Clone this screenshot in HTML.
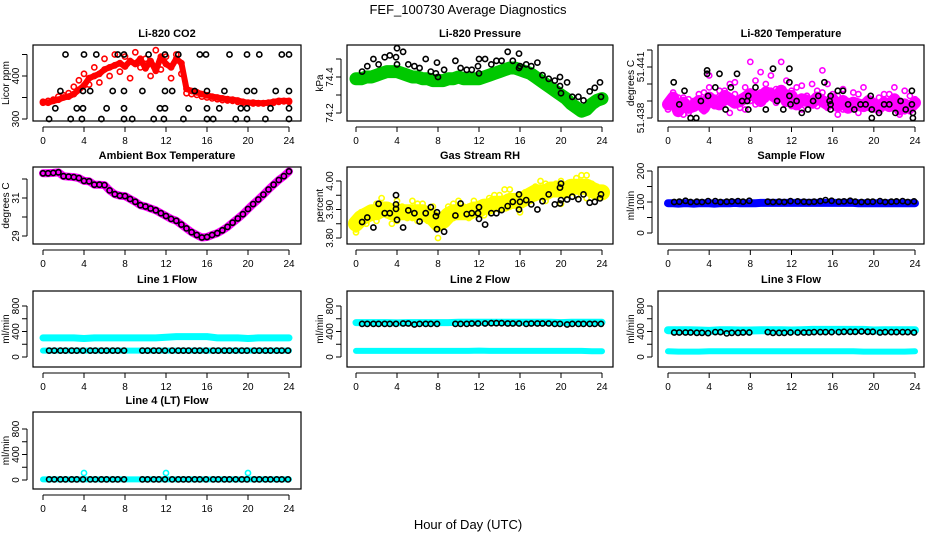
<!DOCTYPE html>
<html><head><meta charset="utf-8"><title>FEF_100730 Average Diagnostics</title>
<style>
html,body{margin:0;padding:0;background:#fff;}
svg{display:block;font-family:"Liberation Sans",Arial,sans-serif;}
</style></head>
<body>
<svg id="chart" width="936" height="540" viewBox="0 0 936 540" xmlns="http://www.w3.org/2000/svg">
<text x="468" y="14" text-anchor="middle" font-size="13">FEF_100730  Average Diagnostics</text>
<text x="468" y="529" text-anchor="middle" font-size="13">Hour of Day (UTC)</text>
</svg>
<script>
const halfHours=[0,0.5,1,1.5,2,2.5,3,3.5,4,4.5,5,5.5,6,6.5,7,7.5,8,8.5,9,9.5,10,10.5,11,11.5,12,12.5,13,13.5,14,14.5,15,15.5,16,16.5,17,17.5,18,18.5,19,19.5,20,20.5,21,21.5,22,22.5,23,23.5,24];
const hourly=[0,1,2,3,4,5,6,7,8,9,10,11,12,13,14,15,16,17,18,19,20,21,22,23,24];
const xTicks=[0,4,8,12,16,20,24];

const co2Main=[340,338,342,345,350,352,358,368,378,395,400,405,415,420,425,430,422,435,428,440,418,435,412,445,428,420,440,430,370,365,362,358,355,352,350,348,346,345,343,340,338,338,337,337,338,340,342,342,342];
const co2Alt=[338,342,345,352,355,360,375,390,405,380,420,385,440,400,450,410,445,395,455,420,440,400,460,415,445,395,450,405,360,358,356,352,350,348,346,344,343,342,340,338,337,336,336,336,337,338,340,341,340];
const co2BlackH=[0.6,2.7,3.8,5.7,7.9,8.7,10.8,11.8,13.7,16,16.6,18.8,19.9,21.7,24,1.2,3.3,3.9,6.2,7.9,11.4,11.9,14.2,16,17.2,19.3,19.9,22.2,24,1.7,3.9,4.6,6.8,7.9,9.7,11.9,12.6,14.8,16,17.7,19.9,20.6,22.7,24,2.2,4,5.2,7.3,7.9,10.3,11.9,13.2,15.3,15.9,18.2,19.9,21.1,23.3,24];
const co2BlackV=[300,300,300,300,300,300,300,300,300,300,300,300,300,300,300,325,325,325,325,325,325,325,325,325,325,325,325,325,325,365,365,365,365,365,365,365,365,365,365,365,365,365,365,365,450,450,450,450,450,450,450,450,450,450,450,450,450,450,450];

const presMain=[74.39,74.39,74.40,74.40,74.41,74.42,74.43,74.43,74.43,74.42,74.41,74.40,74.40,74.39,74.39,74.38,74.38,74.38,74.39,74.39,74.40,74.39,74.39,74.39,74.39,74.40,74.41,74.42,74.43,74.44,74.45,74.45,74.44,74.43,74.42,74.40,74.38,74.36,74.34,74.32,74.30,74.28,74.25,74.23,74.21,74.22,74.25,74.27,74.28];
const presBlackH=[0.6,1.1,1.7,2.2,2.8,3.3,3.9,4,4,4.6,5.1,5.7,6.2,6.8,7.3,7.8,7.9,8,8.6,9.7,10.2,10.8,11.3,11.9,12,12,12.6,13.2,13.7,14.2,14.8,15.3,15.9,15.9,16,16.6,17.1,17.7,18.2,18.8,19.4,19.9,19.9,20,20.6,21.1,21.7,22.2,22.8,23.3,23.8,23.9];
const presBlackV=[74.43,74.46,74.50,74.47,74.51,74.52,74.51,74.56,74.47,74.54,74.47,74.46,74.45,74.50,74.43,74.42,74.48,74.40,74.44,74.49,74.45,74.44,74.44,74.46,74.50,74.42,74.50,74.47,74.49,74.49,74.54,74.49,74.53,74.45,74.46,74.47,74.46,74.48,74.41,74.39,74.38,74.35,74.40,74.31,74.37,74.29,74.29,74.27,74.32,74.34,74.37,74.29];

const tempA=[51.4390,51.4395,51.4385,51.4392,51.4383,51.4390,51.4388,51.4395,51.4398,51.4392,51.4396,51.4389,51.4400,51.4394,51.4386,51.4398,51.4390,51.4402,51.4395,51.4400,51.4405,51.4397,51.4392,51.4402,51.4396,51.4390,51.4399,51.4393,51.4391,51.4387,51.4395,51.4400,51.4389,51.4393,51.4385,51.4390,51.4386,51.4394,51.4388,51.4391,51.4385,51.4392,51.4389,51.4394,51.4386,51.4390,51.4384,51.4393,51.4388];
const tempB=[51.4385,51.4388,51.4392,51.4382,51.4391,51.4386,51.4394,51.4384,51.4405,51.4387,51.4393,51.4396,51.4383,51.4401,51.4392,51.4385,51.4413,51.4388,51.4407,51.4391,51.4396,51.4389,51.4413,51.4395,51.4387,51.4398,51.4385,51.4393,51.4400,51.4396,51.4408,51.4386,51.4394,51.4382,51.4397,51.4389,51.4395,51.4383,51.4398,51.4386,51.4389,51.4383,51.4394,51.4387,51.4398,51.4382,51.4396,51.4384,51.4391];
const tempMid=[51.4388,51.4392,51.4384,51.4389,51.4386,51.4387,51.4390,51.4386,51.4392,51.4389,51.4388,51.4393,51.4391,51.4389,51.4390,51.4392,51.4394,51.4393,51.4390,51.4395,51.4394,51.4392,51.4396,51.4390,51.4393,51.4388,51.4391,51.4390,51.4389,51.4392,51.4390,51.4388,51.4391,51.4387,51.4390,51.4386,51.4389,51.4388,51.4387,51.4390,51.4388,51.4386,51.4389,51.4387,51.4391,51.4385,51.4388,51.4386,51.4389];
const tempBlackH=[0.55,1.1,1.6,2.2,2.75,3.2,3.8,3.8,3.9,4.6,5.0,5.6,6.1,6.7,7.2,7.7,7.8,7.8,8.5,9.5,10.2,10.6,11.2,11.8,11.8,11.8,11.9,12.5,13,13.6,14.1,14.6,15.2,15.7,15.8,15.8,15.8,16.5,17,17.5,18.1,18.7,19.2,19.7,19.8,19.8,20.5,21,21.5,22.1,22.6,23.1,23.7,23.7,23.8,23.8];
const tempBlackV=[51.4401,51.4388,51.4396,51.4380,51.4380,51.4390,51.4408,51.4406,51.4393,51.4398,51.4406,51.4385,51.4398,51.4406,51.4390,51.4390,51.4393,51.4385,51.4398,51.4385,51.4409,51.4390,51.4385,51.4401,51.4409,51.4393,51.4388,51.4390,51.4383,51.4385,51.4390,51.4393,51.4401,51.4390,51.4393,51.4388,51.4385,51.4396,51.4396,51.4388,51.4385,51.4388,51.4388,51.4393,51.4385,51.4380,51.4383,51.4388,51.4388,51.4383,51.4390,51.4385,51.4396,51.4388,51.4383,51.4380];

const ambTemp=[32.30,32.30,32.32,32.35,32.15,32.12,32.10,32.05,31.90,31.88,31.70,31.70,31.68,31.40,31.20,31.12,31.10,30.95,30.80,30.62,30.55,30.45,30.35,30.20,30.05,29.90,29.80,29.60,29.40,29.20,29.05,28.92,28.95,29.05,29.15,29.30,29.48,29.70,29.92,30.15,30.42,30.68,30.92,31.18,31.45,31.70,31.95,32.15,32.40];

const rhA=[3.83,3.86,3.88,3.90,3.92,3.94,3.88,3.91,3.93,3.88,3.90,3.87,3.92,3.89,3.86,3.91,3.84,3.87,3.89,3.92,3.90,3.88,3.91,3.93,3.89,3.91,3.94,3.92,3.95,3.93,3.97,3.92,3.95,3.93,3.96,3.98,3.95,3.99,3.97,3.96,4.00,3.98,3.96,4.01,3.99,4.02,3.97,3.98,3.95];
const rhB=[3.82,3.89,3.85,3.87,3.86,3.89,3.91,3.85,3.86,3.91,3.87,3.93,3.86,3.92,3.89,3.86,3.80,3.85,3.91,3.87,3.93,3.91,3.87,3.89,3.92,3.88,3.90,3.95,3.90,3.97,3.91,3.94,3.89,3.96,3.93,3.94,4.00,3.93,3.96,3.99,3.92,3.95,3.99,3.95,4.02,3.94,3.99,3.95,3.97];
const rhMid=[3.85,3.87,3.88,3.89,3.89,3.90,3.90,3.89,3.89,3.89,3.89,3.89,3.89,3.89,3.88,3.87,3.85,3.86,3.88,3.89,3.89,3.89,3.89,3.90,3.90,3.91,3.91,3.92,3.92,3.92,3.93,3.93,3.93,3.94,3.95,3.96,3.96,3.96,3.97,3.97,3.97,3.97,3.98,3.98,3.98,3.98,3.97,3.96,3.96];
const rhBlackH=[0.6,1.1,1.7,2.2,2.8,3.3,3.9,3.9,3.9,4,4.6,5.1,5.7,6.2,6.8,7.3,7.8,7.9,7.9,8.6,9.7,10.2,10.8,11.3,11.9,12,12,12.6,13.2,13.7,14.2,14.8,15.3,15.9,15.9,16,16.6,17.1,17.7,18.2,18.8,19.4,19.9,19.9,20,20,20.6,21.1,21.7,22.2,22.8,23.3,23.8,23.9];
const rhBlackV=[3.856,3.872,3.837,3.920,3.887,3.887,3.950,3.918,3.902,3.864,3.837,3.897,3.887,3.858,3.887,3.908,3.877,3.890,3.831,3.822,3.879,3.921,3.884,3.887,3.887,3.908,3.867,3.847,3.887,3.887,3.898,3.912,3.927,3.953,3.900,3.927,3.933,3.918,3.900,3.929,3.953,3.918,3.921,3.977,3.991,3.933,3.935,3.945,3.936,3.953,3.924,3.927,3.939,3.953];

const sampleBlue=[96,96,95,96,96,95,96,96,96,95,96,96,96,97,96,96,96,96,97,97,97,97,97,97,97,97,97,97,97,97,97,97,97,97,97,97,97,96,96,96,96,96,96,96,96,96,96,96,96];
const flowBlackH=[0.6,1.1,1.7,2.2,2.8,3.3,3.9,4.6,5.1,5.7,6.2,6.8,7.3,7.9,9.7,10.2,10.8,11.3,11.9,12.6,13.2,13.7,14.2,14.8,15.3,15.9,16.6,17.1,17.7,18.2,18.8,19.4,19.9,20.6,21.1,21.7,22.2,22.8,23.3,23.9];
const sampleBlack=[100,101,104,100,101,100,103,103,100,101,102,103,101,104,101,100,101,100,103,102,101,100,101,103,106,104,101,102,104,101,100,101,101,103,100,101,102,103,100,102];
const line1Hi=[300,300,300,300,290,300,300,300,300,300,300,300,310,320,320,320,320,300,300,300,290,300,300,300,300];
const line1Lo=[100,100,100,100,100,100,100,100,100,100,100,100,100,100,100,100,100,100,100,100,100,100,100,100,100];
const line1Black=[100,100,100,100,100,100,100,100,100,100,100,100,100,100,100,100,100,100,100,100,100,100,100,100,100,100,100,100,100,100,100,100,100,100,100,100,100,100,100,100];
const line2Hi=[540,540,540,540,535,540,540,540,540,540,545,545,545,545,545,545,545,545,545,545,540,545,545,545,545];
const line2Lo=[95,95,95,95,95,95,95,95,95,95,95,95,100,95,95,95,95,95,95,95,95,95,95,90,90];
const line2Black=[520,520,520,520,520,520,520,525,525,510,520,520,520,520,520,520,520,525,525,525,530,530,530,525,525,525,520,525,525,525,525,520,520,510,520,520,520,520,520,520];
const line3Hi=[420,420,420,415,410,420,420,415,415,420,420,420,415,420,425,425,425,425,425,425,415,420,420,420,420];
const line3Lo=[90,85,85,85,90,90,90,90,90,90,90,90,90,90,90,90,90,90,90,85,85,85,85,85,90];
const line3Black=[385,385,385,385,380,380,375,390,390,370,380,380,385,385,390,380,380,380,385,385,385,385,390,390,390,390,390,395,395,395,400,395,395,385,390,390,390,390,390,385];
const line4Cyan=[10,10,10,10,10,10,10,10,10,10,10,10,10,10,10,10,10,10,10,10,10,10,10,10,10];
const line4OutH=[4,12,20];
const line4OutV=[110,110,110];
const line4Black=[10,10,10,10,10,10,10,10,10,10,10,10,10,10,10,10,10,10,10,10,10,10,10,10,10,10,10,10,10,10,10,10,10,10,10,10,10,10,10,10];

const NS="http://www.w3.org/2000/svg";
const svg=document.getElementById('chart');
function mk(tag,attrs,parent){const e=document.createElementNS(NS,tag);for(const k in attrs)e.setAttribute(k,attrs[k]);(parent||svg).appendChild(e);return e;}

const cols=[{bx0:33,bx1:301,h0:43,h24:289},{bx0:347,bx1:613,h0:356,h24:602},{bx0:658,bx1:924,h0:668,h24:915}];
const rows=[{by0:45,by1:121},{by0:167,by1:244},{by0:291,by1:367},{by0:412,by1:489}];

function panel(p){
  const c=cols[p.col], r=rows[p.row];
  const g=mk('g',{});
  
  
  const xs=h=>c.h0+(h/24)*(c.h24-c.h0);
  const ys=v=>p.ref[1]+(v-p.ref[0])*(p.ref[3]-p.ref[1])/(p.ref[2]-p.ref[0]);
  p.series.forEach(s=>{
    const sg=mk('g',{},g);
    
    
    if(s.band){
      const pts=s.h.map((h,i)=>xs(h).toFixed(1)+','+ys(s.v[i]).toFixed(1)).join(' ');
      const pl=mk('polyline',{points:pts,fill:'none',stroke:s.color,'stroke-width':s.band,'stroke-linejoin':'round','stroke-linecap':'round'},sg);
      
      
    }
    if(s.circles!==false){
      s.h.forEach((h,i)=>{
        const ci=mk('circle',{cx:xs(h).toFixed(1),cy:ys(s.v[i]).toFixed(1),r:s.r||2.6,fill:'none',stroke:s.ccolor||s.color,'stroke-width':1.6},sg);
        
        
      });
    }
  });
  const box=mk('rect',{x:c.bx0,y:r.by0,width:c.bx1-c.bx0,height:r.by1-r.by0,fill:'none',stroke:'#000','stroke-width':1.2},g);
  
  
  const xa=mk('g',{},g);
  
  
  const yb=r.by1+6;
  mk('line',{x1:xs(0),x2:xs(24),y1:yb,y2:yb,stroke:'#000','stroke-width':1},xa);
  xTicks.forEach(t=>{
    mk('line',{x1:xs(t),x2:xs(t),y1:yb,y2:yb+5,stroke:'#000','stroke-width':1},xa);
    const tx=mk('text',{x:xs(t),y:yb+17,'text-anchor':'middle','font-size':10},xa);
    tx.textContent=t;
    
    
  });
  const ya=mk('g',{},g);
  
  
  const xl=c.bx0-6;
  mk('line',{x1:xl,x2:xl,y1:ys(p.yticks[0]),y2:ys(p.yticks[p.yticks.length-1]),stroke:'#000','stroke-width':1},ya);
  p.yticks.forEach((t,i)=>{
    const y=ys(t);
    mk('line',{x1:xl-5,x2:xl,y1:y,y2:y,stroke:'#000','stroke-width':1},ya);
    if(p.ylabels[i]){
      const tx=mk('text',{x:0,y:0,'text-anchor':'middle','font-size':10,transform:`translate(${xl-8},${y}) rotate(-90)`},ya);
      tx.textContent=p.ylabels[i];
      
      
    }
  });
  const yt=mk('text',{x:0,y:0,'text-anchor':'middle','font-size':10,transform:`translate(${c.bx0-24},${(r.by0+r.by1)/2}) rotate(-90)`},g);
  yt.textContent=p.ylab;
  
  
  const tt=mk('text',{x:(c.bx0+c.bx1)/2,y:r.by0-8,'text-anchor':'middle','font-size':11,'font-weight':'bold'},g);
  tt.textContent=p.title;
  
  
}

const lineTicks=[0,200,400,600,800], lineLabels=['0','','400','','800'];

panel({name:'panel-co2',col:0,row:0,title:'Li-820 CO2',ylab:'Licor ppm',ref:[300,119,400,76],yticks:[300,350,400,450],ylabels:['300','','400',''],
  series:[{name:'co2-series',h:halfHours,v:co2Main,color:'#ff0000',band:6},{name:'co2-alt-series',h:halfHours,v:co2Alt,color:'#ff0000'},{name:'co2-black',h:co2BlackH,v:co2BlackV,color:'#000'}]});
panel({name:'panel-pressure',col:1,row:0,title:'Li-820 Pressure',ylab:'kPa',ref:[74.2,113,74.4,77],yticks:[74.2,74.3,74.4,74.5],ylabels:['74.2','','74.4',''],
  series:[{name:'pressure-series',h:halfHours,v:presMain,color:'#00c800',band:13},{name:'pressure-black',h:presBlackH,v:presBlackV,color:'#000'}]});
panel({name:'panel-li-temp',col:2,row:0,title:'Li-820 Temperature',ylab:'degrees C',ref:[51.438,118,51.441,67],yticks:[51.438,51.439,51.440,51.441,51.442],ylabels:['51.438','','','51.441',''],
  series:[{name:'temp-band',h:halfHours,v:tempMid,color:'#ff00ff',band:12},{name:'temp-a',h:halfHours,v:tempA,color:'#ff00ff'},{name:'temp-b',h:halfHours,v:tempB,color:'#ff00ff'},{name:'temp-black',h:tempBlackH,v:tempBlackV,color:'#000'}]});
panel({name:'panel-ambient-temp',col:0,row:1,title:'Ambient Box Temperature',ylab:'degrees C',ref:[29,236,31,198],yticks:[29,30,31,32],ylabels:['29','','31',''],
  series:[{name:'ambient-series',h:halfHours,v:ambTemp,color:'#ff00ff',band:8,ccolor:'#000'}]});
panel({name:'panel-rh',col:1,row:1,title:'Gas Stream RH',ylab:'percent',ref:[3.80,238,4.00,181],yticks:[3.80,3.85,3.90,3.95,4.00],ylabels:['3.80','','3.90','','4.00'],
  series:[{name:'rh-band',h:halfHours,v:rhMid,color:'#ffff00',band:16},{name:'rh-a',h:halfHours,v:rhA,color:'#ffff00'},{name:'rh-b',h:halfHours,v:rhB,color:'#ffff00'},{name:'rh-black',h:rhBlackH,v:rhBlackV,color:'#000'}]});
panel({name:'panel-sample-flow',col:2,row:1,title:'Sample Flow',ylab:'ml/min',ref:[0,233,200,171],yticks:[0,50,100,150,200],ylabels:['0','','100','','200'],
  series:[{name:'sample-blue',h:halfHours,v:sampleBlue,color:'#0000ff',band:8},{name:'sample-black',h:flowBlackH,v:sampleBlack,color:'#000'}]});
panel({name:'panel-line1',col:0,row:2,title:'Line 1 Flow',ylab:'ml/min',ref:[0,357,800,306],yticks:lineTicks,ylabels:lineLabels,
  series:[{name:'line1-hi',h:hourly,v:line1Hi,color:'#00ffff',band:7,circles:false},{name:'line1-lo',h:hourly,v:line1Lo,color:'#00ffff',band:6,circles:false},{name:'line1-black',h:flowBlackH,v:line1Black,color:'#000'}]});
panel({name:'panel-line2',col:1,row:2,title:'Line 2 Flow',ylab:'ml/min',ref:[0,357,800,306],yticks:lineTicks,ylabels:lineLabels,
  series:[{name:'line2-hi',h:hourly,v:line2Hi,color:'#00ffff',band:7,circles:false},{name:'line2-lo',h:hourly,v:line2Lo,color:'#00ffff',band:6,circles:false},{name:'line2-black',h:flowBlackH,v:line2Black,color:'#000'}]});
panel({name:'panel-line3',col:2,row:2,title:'Line 3 Flow',ylab:'ml/min',ref:[0,357,800,306],yticks:lineTicks,ylabels:lineLabels,
  series:[{name:'line3-hi',h:hourly,v:line3Hi,color:'#00ffff',band:8,circles:false},{name:'line3-lo',h:hourly,v:line3Lo,color:'#00ffff',band:6,circles:false},{name:'line3-black',h:flowBlackH,v:line3Black,color:'#000'}]});
panel({name:'panel-line4',col:0,row:3,title:'Line 4 (LT) Flow',ylab:'ml/min',ref:[0,480,800,429],yticks:lineTicks,ylabels:lineLabels,
  series:[{name:'line4-cyan',h:hourly,v:line4Cyan,color:'#00ffff',band:6,circles:false},{name:'line4-outliers',h:line4OutH,v:line4OutV,color:'#00ffff'},{name:'line4-black',h:flowBlackH,v:line4Black,color:'#000'}]});
</script>
</body></html>
